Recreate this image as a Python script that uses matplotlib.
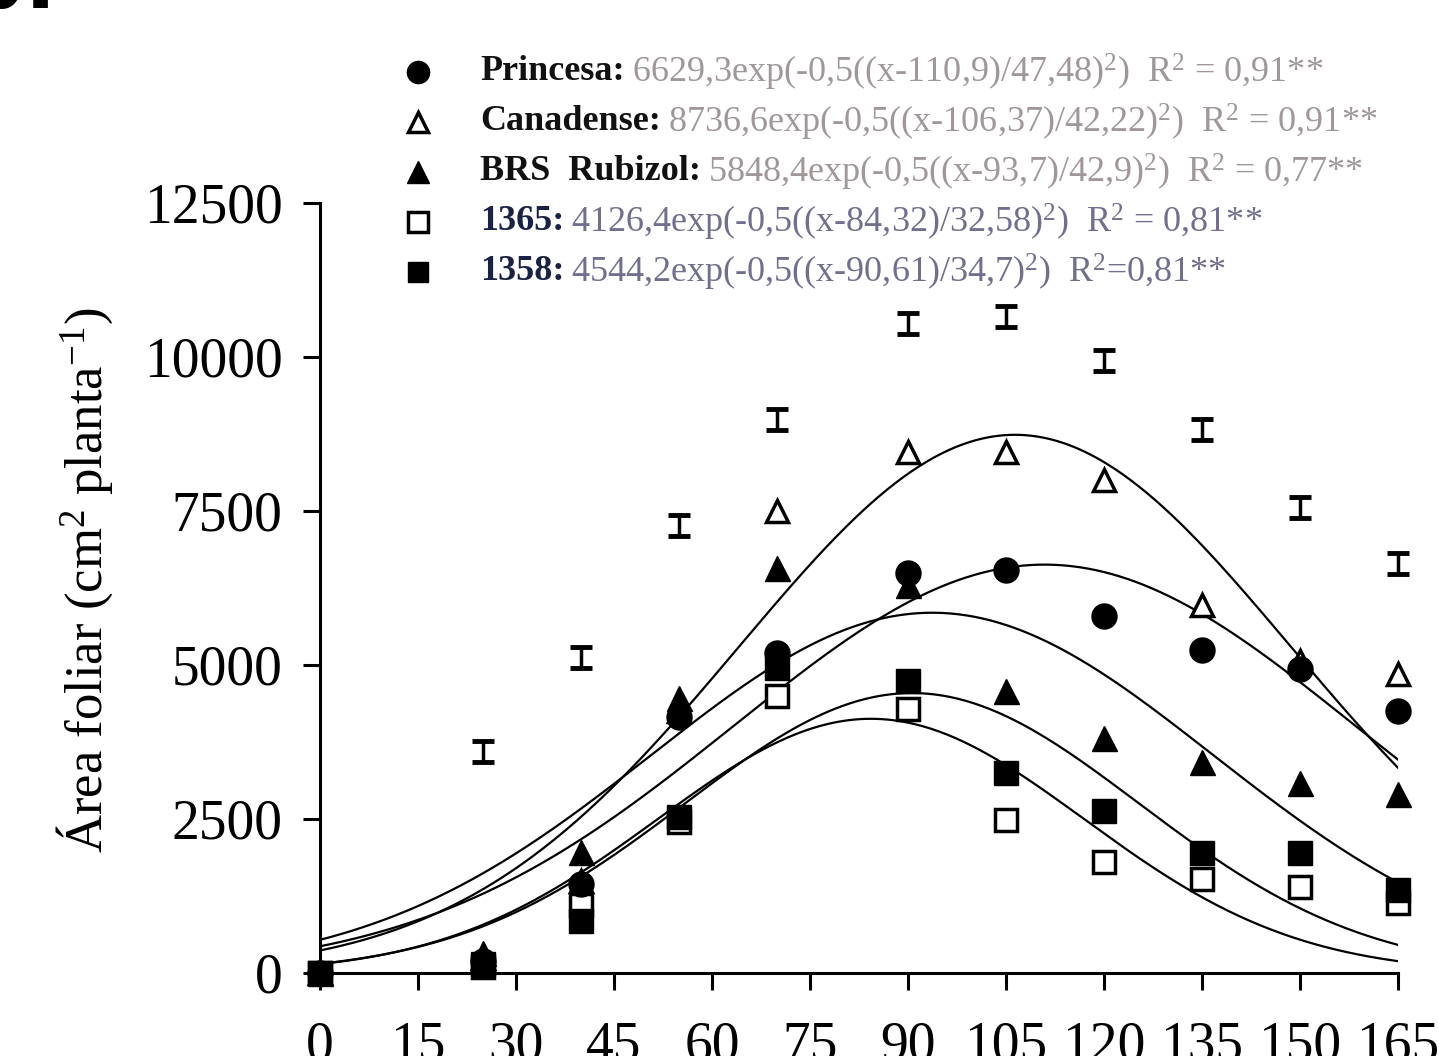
import numpy as np
import matplotlib.pyplot as plt
from matplotlib.lines import Line2D

plt.rcParams['font.family'] = ['Liberation Serif', 'DejaVu Serif']
plt.rcParams['mathtext.fontset'] = 'custom'
plt.rcParams['mathtext.rm'] = 'Liberation Serif'
plt.rcParams['mathtext.it'] = 'Liberation Serif:italic'

# === DADOS ===
dias = [0, 25, 40, 55, 70, 90, 105, 120, 135, 150, 165]
princesa = [0, 200, 1450, 4150, 5200, 6500, 6540, 5790, 5250, 4930, 4260]
canadense = [0, 250, 1500, 4250, 7500, 8460, 8460, 8010, 5980, 5070, 4850]
rubizol = [0, 330, 1960, 4460, 6570, 6300, 4580, 3810, 3430, 3090, 2910]
l1365 = [0, 100, 1100, 2450, 4490, 4280, 2480, 1800, 1520, 1390, 1140]
l1358 = [0, 150, 850, 2530, 4950, 4740, 3250, 2630, 1945, 1945, 1340]

# barras de DMS
dias_dms = [25, 40, 55, 70, 90, 105, 120, 135, 150, 165]
dms = [3590, 5120, 7270, 8990, 10540, 10650, 9950, 8820, 7550, 6650]
dms_meia = 170

# ajustes gaussianos: a*exp(-0,5((x-x0)/b)^2)
nomes = ['Princesa', 'Canadense', 'BRS Rubizol', '1365', '1358']
amp = [6629.3, 8736.6, 5848.4, 4126.4, 4544.2]
centro = [110.9, 106.37, 93.7, 84.32, 90.61]
largura = [47.48, 42.22, 42.9, 32.58, 34.7]
equacoes = [
    '6629,3exp(-0,5((x-110,9)/47,48)$^2$)  R$^2$ = 0,91**',
    '8736,6exp(-0,5((x-106,37)/42,22)$^2$)  R$^2$ = 0,91**',
    '5848,4exp(-0,5((x-93,7)/42,9)$^2$)  R$^2$ = 0,77**',
    '4126,4exp(-0,5((x-84,32)/32,58)$^2$)  R$^2$ = 0,81**',
    '4544,2exp(-0,5((x-90,61)/34,7)$^2$)  R$^2$=0,81**',
]
rotulos = ['Princesa:', 'Canadense:', 'BRS  Rubizol:', '1365:', '1358:']

fig = plt.figure(figsize=(14.39, 10.56), dpi=100)
ax = fig.add_axes([0.2224, 0.0786, 0.7491, 0.7292])

# curvas ajustadas
xc = np.linspace(0, 165, 400)
for a, x0, b in zip(amp, centro, largura):
    ax.plot(xc, a * np.exp(-0.5 * ((xc - x0) / b) ** 2), color='k', lw=1.6, zorder=2)

# estilos dos marcadores
est = {
    'Princesa': dict(marker='o', ms=18, mfc='k', mec='k'),
    'Canadense': dict(marker='^', ms=16, mfc='white', mec='k', mew=2.5),
    'BRS Rubizol': dict(marker='^', ms=18, mfc='k', mec='k'),
    '1365': dict(marker='s', ms=16, mfc='white', mec='k', mew=2.5),
    '1358': dict(marker='s', ms=17, mfc='k', mec='k'),
}
series = {'Princesa': princesa, 'Canadense': canadense, 'BRS Rubizol': rubizol,
          '1365': l1365, '1358': l1358}

for nome in ['Canadense', '1365', 'Princesa', 'BRS Rubizol', '1358']:
    ax.plot(dias, series[nome], ls='none', zorder=3, clip_on=False, **est[nome])

barras = ax.errorbar(dias_dms, dms, yerr=dms_meia, fmt='none', ecolor='k',
                     elinewidth=2.5, capsize=8, capthick=3.5, zorder=3)
for art in barras.lines[1] + barras.lines[2]:
    art.set_clip_on(False)

ax.set_xlim(0, 165)
ax.set_ylim(0, 12500)
ax.set_xticks(range(0, 166, 15))
ax.set_yticks(range(0, 12501, 2500))
for s in ['top', 'right']:
    ax.spines[s].set_visible(False)
for s in ['left', 'bottom']:
    ax.spines[s].set_linewidth(2.2)
ax.tick_params(direction='out', length=12, width=2.2, labelsize=40)
ax.tick_params(axis='x', pad=22)
ax.tick_params(axis='y', pad=15)

fig.text(85 / 1439, 1 - 580 / 1056, 'Área foliar (cm$^{2}$ planta$^{-1}$)',
         rotation=90, ha='center', va='center', fontsize=38)

# legenda
linhas_y = [72, 122, 172, 222, 272]
cores_eq = ['#a09898', '#a09898', '#a09898', '#70708e', '#70708e']
cores_nome = ['#111111', '#111111', '#111111', '#1a2244', '#1a2244']
for nome, rot, eq, py, ce, cn in zip(nomes, rotulos, equacoes, linhas_y, cores_eq, cores_nome):
    yf = 1 - py / 1056
    e = dict(est[nome])
    e['ms'] = e['ms'] - 2
    fig.add_artist(Line2D([418 / 1439], [yf], transform=fig.transFigure, ls='none', **e))
    t = fig.text(480 / 1439, yf, rot, fontsize=26, fontweight='bold', va='center',
                 ha='left', color=cn)
    ax.annotate(eq, xy=(1, 0.5), xycoords=t, xytext=(5, 0), textcoords='offset points',
                va='center', ha='left', fontsize=26, color=ce, annotation_clip=False)

fig.text(56 / 1439, 1 - 8 / 1056, 'b.', fontsize=60, fontweight='bold',
         family='DejaVu Sans', ha='right', va='baseline')

fig.savefig('out.png', dpi=100)
